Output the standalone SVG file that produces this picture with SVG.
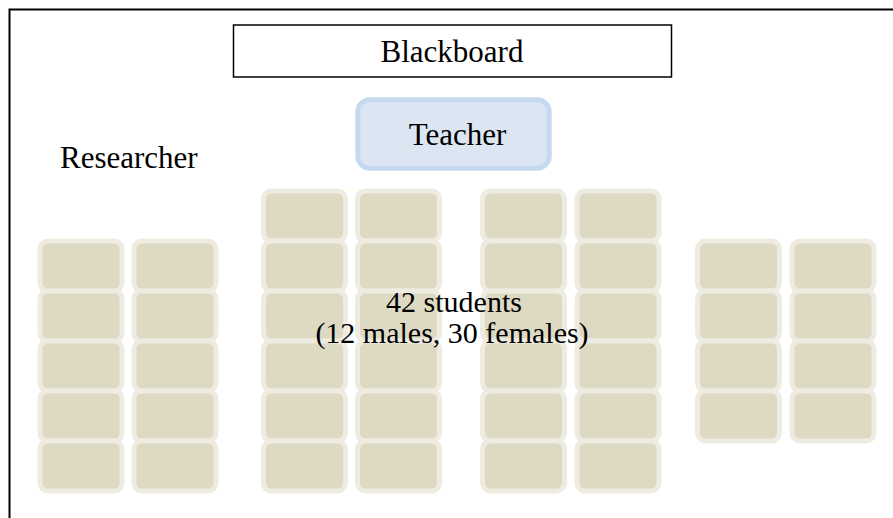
<svg xmlns="http://www.w3.org/2000/svg" width="893" height="518" viewBox="0 0 893 518">
<style>
.desk{fill:#DDD9C3;stroke:#EEECE1;stroke-width:5}
.lbl{font-family:"Liberation Serif","Times New Roman",serif;font-size:31px;fill:#000}
.mid{text-anchor:middle}
.sm{font-size:30px}
</style>
<rect width="893" height="518" fill="#fff"/>
<g id="frame"><path d="M9.5 530 V9.5 H900" fill="none" stroke="#000" stroke-width="2"/></g>
<g id="blackboard">
<rect x="233.5" y="25" width="438" height="52" fill="#fff" stroke="#000" stroke-width="1.5"/>
<text class="lbl mid" x="452" y="62">Blackboard</text>
</g>
<g id="teacher">
<rect x="357.8" y="99.8" width="191.4" height="68.4" rx="12" fill="#DCE6F2" stroke="#C6D9F1" stroke-width="5"/>
<text class="lbl mid" x="457.5" y="145">Teacher</text>
</g>
<g id="researcher"><text class="lbl" x="60" y="168">Researcher</text></g>
<g id="desks-left">
<rect class="desk" x="40" y="241" width="82" height="50" rx="8"/>
<rect class="desk" x="134" y="241" width="82" height="50" rx="8"/>
<rect class="desk" x="40" y="291" width="82" height="50" rx="8"/>
<rect class="desk" x="134" y="291" width="82" height="50" rx="8"/>
<rect class="desk" x="40" y="341" width="82" height="50" rx="8"/>
<rect class="desk" x="134" y="341" width="82" height="50" rx="8"/>
<rect class="desk" x="40" y="391" width="82" height="50" rx="8"/>
<rect class="desk" x="134" y="391" width="82" height="50" rx="8"/>
<rect class="desk" x="40" y="441" width="82" height="50" rx="8"/>
<rect class="desk" x="134" y="441" width="82" height="50" rx="8"/>
</g>
<g id="desks-middle">
<rect class="desk" x="263.5" y="191" width="82" height="50" rx="8"/>
<rect class="desk" x="357.5" y="191" width="82" height="50" rx="8"/>
<rect class="desk" x="482.5" y="191" width="82" height="50" rx="8"/>
<rect class="desk" x="577" y="191" width="82" height="50" rx="8"/>
<rect class="desk" x="263.5" y="241" width="82" height="50" rx="8"/>
<rect class="desk" x="357.5" y="241" width="82" height="50" rx="8"/>
<rect class="desk" x="482.5" y="241" width="82" height="50" rx="8"/>
<rect class="desk" x="577" y="241" width="82" height="50" rx="8"/>
<rect class="desk" x="263.5" y="291" width="82" height="50" rx="8"/>
<rect class="desk" x="357.5" y="291" width="82" height="50" rx="8"/>
<rect class="desk" x="482.5" y="291" width="82" height="50" rx="8"/>
<rect class="desk" x="577" y="291" width="82" height="50" rx="8"/>
<rect class="desk" x="263.5" y="341" width="82" height="50" rx="8"/>
<rect class="desk" x="357.5" y="341" width="82" height="50" rx="8"/>
<rect class="desk" x="482.5" y="341" width="82" height="50" rx="8"/>
<rect class="desk" x="577" y="341" width="82" height="50" rx="8"/>
<rect class="desk" x="263.5" y="391" width="82" height="50" rx="8"/>
<rect class="desk" x="357.5" y="391" width="82" height="50" rx="8"/>
<rect class="desk" x="482.5" y="391" width="82" height="50" rx="8"/>
<rect class="desk" x="577" y="391" width="82" height="50" rx="8"/>
<rect class="desk" x="263.5" y="441" width="82" height="50" rx="8"/>
<rect class="desk" x="357.5" y="441" width="82" height="50" rx="8"/>
<rect class="desk" x="482.5" y="441" width="82" height="50" rx="8"/>
<rect class="desk" x="577" y="441" width="82" height="50" rx="8"/>
</g>
<g id="desks-right">
<rect class="desk" x="697.5" y="241" width="82" height="50" rx="8"/>
<rect class="desk" x="792" y="241" width="82" height="50" rx="8"/>
<rect class="desk" x="697.5" y="291" width="82" height="50" rx="8"/>
<rect class="desk" x="792" y="291" width="82" height="50" rx="8"/>
<rect class="desk" x="697.5" y="341" width="82" height="50" rx="8"/>
<rect class="desk" x="792" y="341" width="82" height="50" rx="8"/>
<rect class="desk" x="697.5" y="391" width="82" height="50" rx="8"/>
<rect class="desk" x="792" y="391" width="82" height="50" rx="8"/>
</g>
<g id="students-label">
<text class="lbl mid sm" x="454" y="312">42 students</text>
<text class="lbl mid sm" x="452" y="343">(12 males, 30 females)</text>
</g>
<g id="connectors"/>
</svg>
